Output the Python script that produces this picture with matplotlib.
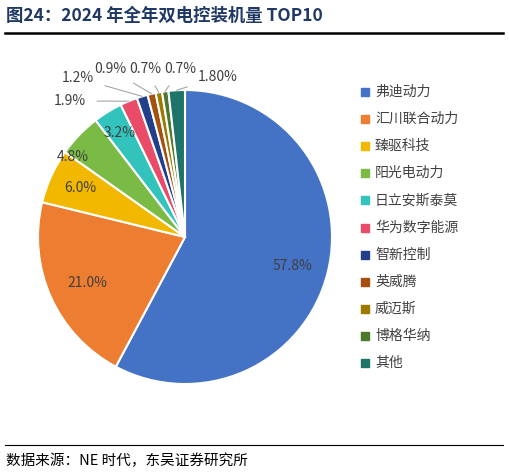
import matplotlib
matplotlib.use("Agg")
import matplotlib.pyplot as plt
from matplotlib.lines import Line2D
import numpy as np

plt.rcParams['font.family'] = ['Noto Sans CJK SC', 'DejaVu Sans']

names = ["弗迪动力", "汇川联合动力", "臻驱科技", "阳光电动力", "日立安斯泰莫", "华为数字能源",
         "智新控制", "英威腾", "威迈斯", "博格华纳", "其他"]
values = [57.8, 21.0, 6.0, 4.8, 3.2, 1.9, 1.2, 0.9, 0.7, 0.7, 1.8]
labels = ["57.8%", "21.0%", "6.0%", "4.8%", "3.2%", "1.9%", "1.2%", "0.9%", "0.7%", "0.7%", "1.80%"]
colors = ["#4472C4", "#ED7D31", "#F2B800", "#79BB45", "#33C3BD", "#E84C68",
          "#22408A", "#A5500F", "#9C7A00", "#4B7A2C", "#1E7468"]

W, H = 509, 476
fig = plt.figure(figsize=(W/100, H/100), dpi=100)
cx, cy, R = 185, 237, 147
ax = fig.add_axes([(cx-R)/W, (H-cy-R)/H, 2*R/W, 2*R/H])
wedges, _ = ax.pie(values, colors=colors, startangle=90, counterclock=False,
                   wedgeprops=dict(edgecolor="white", linewidth=1.5), radius=1)
ax.set_xlim(-1, 1); ax.set_ylim(-1, 1); ax.set_aspect('equal'); ax.axis('off')

def px(x, y):
    return ((x-cx)/R, (cy-y)/R)

inner = {0: (292, 266), 1: (87, 283), 2: (80, 188), 3: (73, 157), 4: (120, 133)}
outer = {5: (70, 101), 6: (78, 78), 7: (110, 69), 8: (145, 69), 9: (180, 69), 10: (218, 77)}
for i, w in enumerate(wedges):
    ang = np.deg2rad((w.theta1 + w.theta2) / 2)
    if i in inner:
        ax.text(*px(*inner[i]), labels[i], ha='center', va='center', fontsize=10, color="#404040")
    else:
        tx, ty = px(*outer[i])
        ax.annotate(labels[i], xy=(np.cos(ang)*1.0, np.sin(ang)*1.0), xytext=(tx, ty),
                    ha='center', va='center', fontsize=10, color="#404040",
                    arrowprops=dict(arrowstyle='-', color="#A6A6A6", lw=0.8,
                                    shrinkA=6, shrinkB=0), annotation_clip=False)

for i, n in enumerate(names):
    y = 92 + i * 27.1
    fig.patches.append(plt.Rectangle((361/W, 1-(y+4)/H), 8/W, 8/H, color=colors[i],
                                     transform=fig.transFigure))
    fig.text(375/W, 1-y/H, n, fontsize=10, color="#404040", va='center', ha='left')

fig.text(6/W, 1-16/H, "图24：2024 年全年双电控装机量 TOP10", fontsize=12.5, fontweight='bold',
         color="#1F3864", va='center', ha='left')
fig.add_artist(Line2D([5/W, 503/W], [1-33/H, 1-33/H], color='black', lw=1.8))
fig.add_artist(Line2D([5/W, 503/W], [1-445/H, 1-445/H], color='black', lw=0.8))
fig.text(6/W, 1-461/H, "数据来源：NE 时代，东吴证券研究所", fontsize=10.5, color="black",
         va='center', ha='left')

fig.savefig("out.png", dpi=100)
